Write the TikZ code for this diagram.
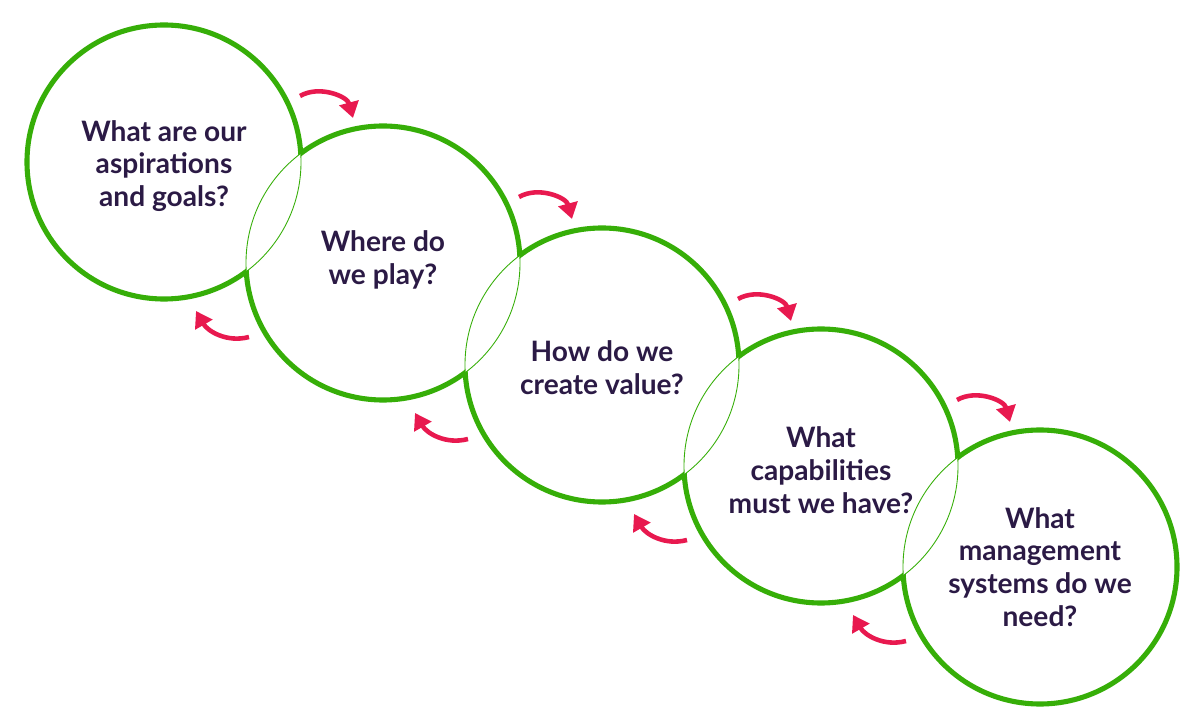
\documentclass[tikz,border=0pt]{standalone}
\usepackage{fontspec}
\setmainfont{Lato}
\usetikzlibrary{arrows.meta,calc}
\definecolor{ringgreen}{HTML}{36AE08}
\definecolor{arrowred}{HTML}{E8194F}
\definecolor{textpurple}{HTML}{2B1A45}
\begin{document}
\begin{tikzpicture}
    [   x=0.02cm, y=-0.02cm
    ,   question/.style=
        {   align=center
        ,   text=textpurple
        ,   font=\bfseries\fontsize{16}{18.7}\selectfont
        }
    ,   loop/.style=
        {   draw=arrowred
        ,   line width=2.6pt
        ,   -{Triangle[length=9pt,width=11pt]}
        }
    ]
    \useasboundingbox (0,0) rectangle (1200,722);
    \def\rad{137}
    % circle centres
    \foreach \n/\cx/\cy in {1/164/162,2/383/263,3/602/365,4/821/466,5/1040/567}
        \coordinate (c\n) at (\cx,\cy);
    % thick rings, cut away inside the neighbours
    \foreach \n/\p/\q in {1/2/2,2/1/3,3/2/4,4/3/5,5/4/4}
    {
        \begin{scope}[even odd rule]
            \clip (c\p) circle[radius=\rad] (-100,-100) rectangle (1300,800);
            \clip (c\q) circle[radius=\rad] (-100,-100) rectangle (1300,800);
            \draw[ringgreen, line width=2.9pt] (c\n) circle[radius=\rad];
        \end{scope}
    }
    % thin outlines of the overlaps
    \foreach \n in {1,...,5}
        \draw[ringgreen, line width=0.5pt] (c\n) circle[radius=\rad];
    % questions
    \node[question] (q1) at (164,166) {What are our\\aspirations\\and goals?};
    \node[question] (q2) at (383,260) {Where do\\we play?};
    \node[question] (q3) at (602,368) {How do we\\create value?};
    \node[question] (q4) at (821,470) {What\\capabilities\\must we have?};
    \node[question] (q5) at (1040,567) {What\\management\\systems do we\\need?};
    % forward and backward arrows
    \foreach \n/\m in {1/2,2/3,3/4,4/5}
    {
        \coordinate (f\n a) at ($(c\n)+(136,-66)$);
        \coordinate (f\n b) at ($(c\n)+(189,-44)$);
        \coordinate (b\n a) at ($(c\m)+(-134,74)$);
        \coordinate (b\n b) at ($(c\m)+(-187,48)$);
        \draw[loop] (f\n a) to[out=30,in=105] (f\n b);
        \draw[loop] (b\n a) to[out=195,in=-60] (b\n b);
    }
\end{tikzpicture}
\end{document}
